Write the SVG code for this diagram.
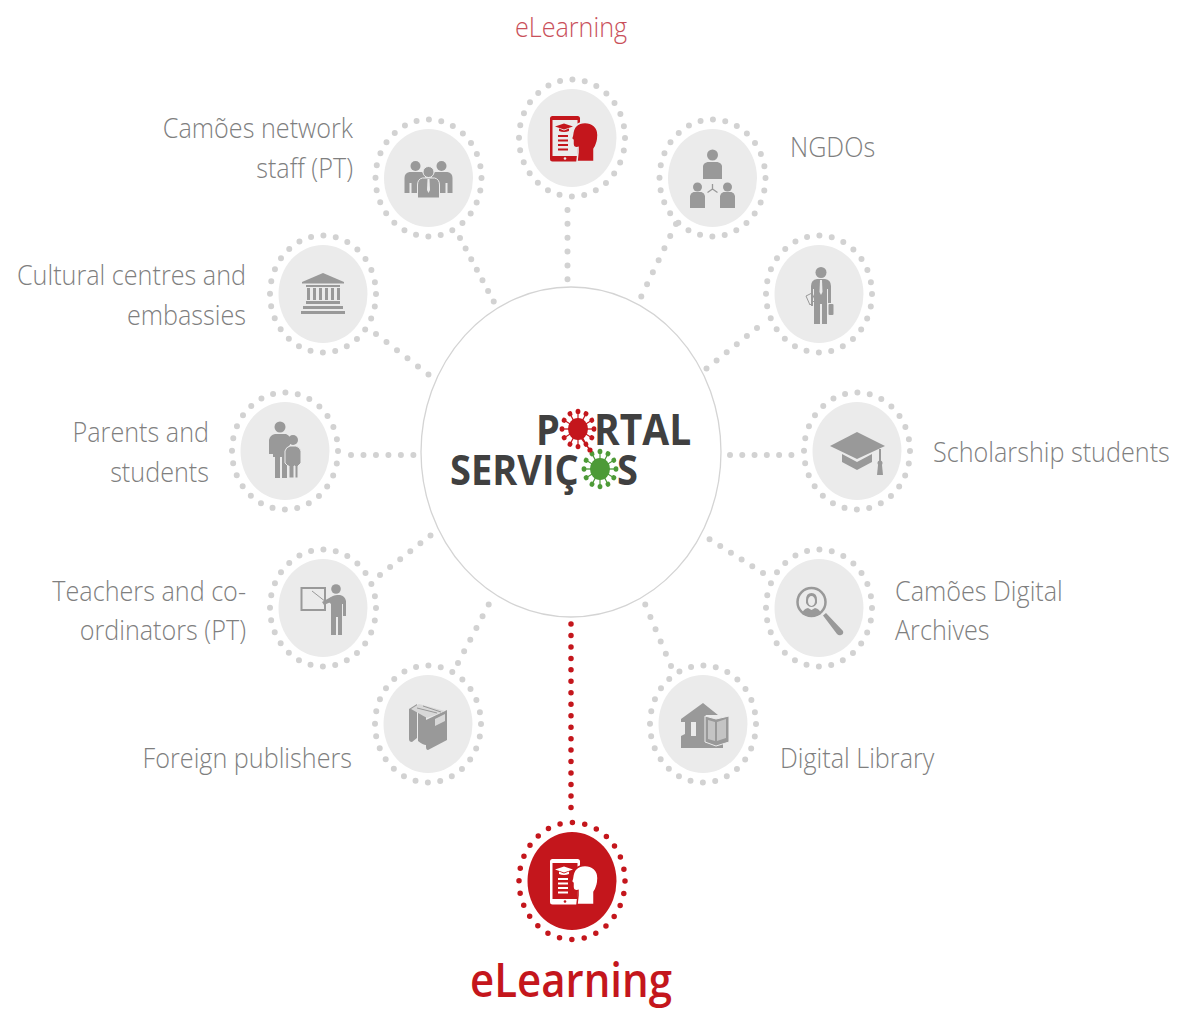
<svg xmlns="http://www.w3.org/2000/svg" width="1178" height="1017" viewBox="0 0 1178 1017">
<style>
.bg{fill:#ebebeb}
.ring{fill:none;stroke:#d2d2d2;stroke-width:6;stroke-linecap:round;stroke-dasharray:0 12.518}
.ringr{stroke:#c4161c;stroke-width:5.500}
.con{fill:none;stroke:#d2d2d2;stroke-width:6;stroke-linecap:round;stroke-dasharray:0 1}
.conr{stroke:#c4161c;stroke-width:5.500}
.l{font-family:"Open Sans","Liberation Sans",sans-serif;font-weight:300;font-size:25.200px;fill:#7f7f7f}
.e{text-anchor:end}
.logo{font-family:"Open Sans","Liberation Sans",sans-serif;font-weight:700;font-size:38px;fill:#404040}
.ic{fill:#999}
</style>
<defs>
<g id="ringbase"><ellipse class="bg" rx="44.500" ry="49"/><ellipse class="ring" rx="53" ry="58.500"/></g>
<g id="spike"><path d="M0 -9V-15.500" fill="none" stroke="currentColor" stroke-width="1.200"/><circle cy="-16" r="2.400"/></g>
<g id="virus">
<circle r="10"/>
<use href="#spike"/><use href="#spike" transform="rotate(30)"/><use href="#spike" transform="rotate(60)"/><use href="#spike" transform="rotate(90)"/><use href="#spike" transform="rotate(120)"/><use href="#spike" transform="rotate(150)"/><use href="#spike" transform="rotate(180)"/><use href="#spike" transform="rotate(210)"/><use href="#spike" transform="rotate(240)"/><use href="#spike" transform="rotate(270)"/><use href="#spike" transform="rotate(300)"/><use href="#spike" transform="rotate(330)"/>
</g>
<g id="tablet">
<rect x="-22" y="-22" width="30" height="45.500" rx="2.500"/>
<rect x="-19.500" y="-18" width="25" height="36" fill="currentColor"/>
<circle cx="-7" cy="20.500" r="1.300" fill="currentColor"/>
<path d="M-17 -11.500L-8 -14.500L1 -11.500L-8 -8.500Z"/>
<path d="M-13 -9.500V-7Q-8 -5 -3 -7V-9.500L-8 -7.500Z"/>
<path d="M-14 -3h10v2h-10zM-14 1.500h10v2h-10zM-14 6h10v2h-10zM-14 10.500h10v2h-10z"/>
<path d="M26 -3C26 -11 20 -15.500 13 -15.500C4 -15.500 1 -9 0.500 -3L-0.500 0.500L1 2V6C1 9 3 10 6 9.500V14.500L5 23.500H22V11C24 8 26 3 26 -3Z" stroke="currentColor" stroke-width="1.500"/>
</g>
</defs>

<g id="connectors">
<path class="con" pathLength="5.050" d="M567.500 210V280"/>
<path class="con" pathLength="6.050" d="M460 238L494 302"/>
<path class="con" pathLength="6.050" d="M676 224L641 297"/>
<path class="con" pathLength="5.050" d="M376 334L429 375"/>
<path class="con" pathLength="5.050" d="M757 328L706 369"/>
<path class="con" pathLength="5.050" d="M351 455H414"/>
<path class="con" pathLength="5.050" d="M730 455H792"/>
<path class="con" pathLength="5.050" d="M380 575L431 535"/>
<path class="con" pathLength="5.050" d="M458 663L489 604"/>
<path class="con" pathLength="5.050" d="M763 573L709 539"/>
<path class="con" pathLength="5.050" d="M671 666L645 604"/>
<path class="con conr" pathLength="16.050" d="M571 624V808"/>
</g>

<g id="hub">
<ellipse cx="571" cy="452" rx="150" ry="165" fill="#fff" stroke="#d4d4d4" stroke-width="1.300"/>
<text class="logo" transform="translate(536 445) scale(1 1.100)">P</text>
<text class="logo" transform="translate(594 445) scale(1 1.100)" style="font-size:39px">RTAL</text>
<text class="logo" transform="translate(450 485) scale(1 1.100)">SERVIÇ</text>
<text class="logo" transform="translate(617 485) scale(1 1.100)">S</text>
<g transform="translate(578 429) scale(1 1.100)" fill="#c4161c" color="#c4161c"><use href="#virus"/></g>
<g transform="translate(600 469) scale(1 1.100)" fill="#4d9a37" color="#4d9a37"><use href="#virus"/></g>
<path d="M579 435L590 450" stroke="#c4161c" stroke-width="1.300"/><circle cx="590" cy="450" r="2.600" fill="#c4161c"/>
</g>

<g id="node-elearning-top" transform="translate(572 138)">
<use href="#ringbase"/>
<use href="#tablet" fill="#c4161c" color="#ebebeb"/>
<text class="l" transform="translate(-1 -101) scale(1 1.100)" text-anchor="middle" style="fill:#c9505a">eLearning</text>
</g>

<g id="node-staff" transform="translate(428.500 178)">
<use href="#ringbase"/>
<g class="ic">
<circle cx="-13" cy="-12" r="5"/><circle cx="13" cy="-12" r="5"/>
<path d="M-24 15V0Q-24 -5 -19 -6H-7Q-3 -5 -3 0V15H-8V5H-9V15H-17V5H-19V15Z"/>
<path d="M24 15V0Q24 -5 19 -6H7Q3 -5 3 0V15H8V5H9V15H17V5H19V15Z"/>
<circle cy="-6" r="5.500" stroke="#ebebeb"/>
<path d="M-11 20V7Q-11 1 -6 0H6Q11 1 11 7V20Z" stroke="#ebebeb"/>
<path d="M-1 1H1L1.500 12L0 15L-1.500 12Z" fill="#ebebeb"/>
</g>
</g>

<g id="node-ngdos" transform="translate(712.500 178)">
<use href="#ringbase"/>
<g class="ic">
<circle cy="-23" r="5.500"/><path d="M-9.500 1V-12Q-9 -15 -5 -16H5Q9 -15 9.500 -12V1Z"/>
<circle cx="-15" cy="9" r="4.500"/><path d="M-22.500 30V18Q-22 15 -19 14H-11Q-8 15 -7.500 18V30Z"/>
<circle cx="15" cy="9" r="4.500"/><path d="M7.500 30V18Q8 15 11 14H19Q22 15 22.500 18V30Z"/>
<path d="M0 6V11M0 11L-5 14.500M0 11L5 14.500" fill="none" stroke="#999" stroke-width="1.300"/>
</g>
</g>

<g id="node-embassies" transform="translate(323 294)">
<use href="#ringbase"/>
<g class="ic">
<path d="M-21 -12L0 -21L21 -12V-10.500H-21Z"/>
<path d="M-17 -9H17V-7H-17ZM-17 7H17V10H-17ZM-20 12H20V15H-20ZM-22 17H22V20H-22Z"/>
<path d="M-16 -6h3v12h-3zM-10 -6h3v12h-3zM-4 -6h3v12h-3zM2 -6h3v12h-3zM8 -6h3v12h-3zM14 -6h3v12h-3z"/>
</g>
</g>

<g id="node-man" transform="translate(819 294)">
<use href="#ringbase"/>
<g class="ic">
<circle cx="2" cy="-21.500" r="5.500"/>
<path d="M-8 12V-8Q-8 -14 -2 -15H6Q12 -14 12 -8V9H9V-5H8V30H3V10H1V30H-5V-5H-6V12Z"/>
<rect x="9.500" y="10" width="5" height="11" rx="1"/>
<path d="M-13 2L-7 -1L-4 6L-9 11Z" fill="none" stroke="#999" stroke-width="1"/>
<path d="M1 -14H3L3.500 -2L2 1L0.500 -2Z" fill="#ebebeb"/>
</g>
</g>

<g id="node-parents" transform="translate(285 451)">
<use href="#ringbase"/>
<g class="ic">
<circle cx="-5" cy="-24" r="5.500"/>
<path d="M-16 3V-11Q-15 -16 -10 -17H1Q4 -16 5 -13V-6L2 -3V27H-3V6H-5V27H-10V6H-12V3Z"/>
<circle cx="8" cy="-11" r="5"/>
<path d="M0 12V0Q1 -4 5 -5H11Q15 -4 16 0V12L13 15V27H10V15H9V27H4V15H3Z" stroke="#ebebeb"/>
</g>
</g>

<g id="node-scholar" transform="translate(857 451)">
<use href="#ringbase"/>
<g class="ic">
<path d="M-27 -5L0 -19L28 -5L0 8Z"/>
<path d="M-15 3L0 11L15 3V11L0 19L-15 11Z"/>
<path d="M22 -2H24V10H22Z"/><circle cx="23" cy="12" r="2.500"/><path d="M21 14H25L26 24H20Z"/>
</g>
</g>

<g id="node-teachers" transform="translate(323 608)">
<use href="#ringbase"/>
<g class="ic">
<path d="M-22.500 -21H3V3H-22.500ZM-20.500 -19V1H1V-19Z"/>
<path d="M-11 -17L3 -6" fill="none" stroke="#999" stroke-width="1"/>
<circle cx="13" cy="-19" r="4.800"/>
<path d="M5 -7Q8 -13 14 -13H17Q22 -12 23 -7V8H20V-4H19V27H15V9H13V27H8V-4Z"/>
<path d="M-1 -6L8 -11L10 -7L1 -3Z"/>
</g>
</g>

<g id="node-publishers" transform="translate(428 724)">
<use href="#ringbase"/>
<g class="ic">
<path d="M-19 -15L-11 -20V14L-16 18Q-19 18 -19 15Z"/>
<path d="M-10 -12L-2 -8V21Q-5 21 -10 17Z"/>
<path d="M-2 -4L19 -14V16L0 26Q-2 26 -2 23Z"/>
</g>
<path d="M-17 -15L-9 -20L17 -13L-1 -6Z" fill="#d8d8d8"/>
<path d="M-11 -16L9 -11M-5 -18L13 -12" stroke="#999" stroke-width="1" fill="none"/>
<path d="M7 -5L17 -10V-3L7 2Z" fill="#d8d8d8"/>
</g>

<g id="node-archives" transform="translate(819 608)">
<use href="#ringbase"/>
<circle cx="-7.500" cy="-6" r="14" fill="none" stroke="#999" stroke-width="2.500"/>
<g class="ic">
<path d="M-13 -8Q-13 -15 -7.500 -15Q-2 -15 -2 -8L-2 -5Q-4 -1 -7.500 -1Q-11 -1 -13 -5Z"/>
<path d="M-17 6Q-16 1 -11 0L-7.500 2L-4 0Q1 1 2 6Q-7 11 -17 6Z"/>
<path d="M4 7.500L7 5L24 23Q25 26 22 27Q20 28 18 26Z"/>
</g>
<ellipse cx="-7.500" cy="-7" rx="3.500" ry="5" fill="#ebebeb"/>
</g>

<g id="node-library" transform="translate(703 724)">
<use href="#ringbase"/>
<g class="ic">
<path d="M-22 -5L0 -21L15 -9H3V16H20V24H-22V12L-18 10V-2H-22ZM-12 -2V12H-7V-2Z"/>
<path d="M2 -8L13 -5L26 -8V18L13 22L2 18Z" stroke="#ebebeb"/>
</g>
<path d="M5 -4L12 -2V17L5 15ZM14 -2L23 -5V14L14 17Z" fill="#c4c4c4"/>
</g>

<g id="node-elearning" transform="translate(572 881)">
<ellipse rx="44.500" ry="49" fill="#c4161c"/>
<ellipse class="ring ringr" rx="53" ry="58.500"/>
<use href="#tablet" fill="#fff" color="#c4161c"/>
<text transform="translate(-1 116) scale(1 1.100)" text-anchor="middle" style="font-family:'Open Sans','Liberation Sans',sans-serif;font-size:42px;font-weight:600;fill:#c4161c">eLearning</text>
</g>

<g id="labels">
<text class="l e" transform="translate(353 138) scale(1 1.100)">Camões network</text>
<text class="l e" transform="translate(353 178) scale(1 1.100)">staff (PT)</text>
<text class="l e" transform="translate(246 285) scale(1 1.100)">Cultural centres and</text>
<text class="l e" transform="translate(246 325) scale(1 1.100)">embassies</text>
<text class="l e" transform="translate(209 442) scale(1 1.100)">Parents and</text>
<text class="l e" transform="translate(209 482) scale(1 1.100)">students</text>
<text class="l e" transform="translate(246 601) scale(1 1.100)">Teachers and co-</text>
<text class="l e" transform="translate(246 640) scale(1 1.100)">ordinators (PT)</text>
<text class="l e" transform="translate(352 768) scale(1 1.100)">Foreign publishers</text>
<text class="l" transform="translate(790 157) scale(1 1.100)">NGDOs</text>
<text class="l" transform="translate(933 462) scale(1 1.100)">Scholarship students</text>
<text class="l" transform="translate(895 601) scale(1 1.100)">Camões Digital</text>
<text class="l" transform="translate(895 640) scale(1 1.100)">Archives</text>
<text class="l" transform="translate(780 768) scale(1 1.100)">Digital Library</text>
</g>
</svg>
